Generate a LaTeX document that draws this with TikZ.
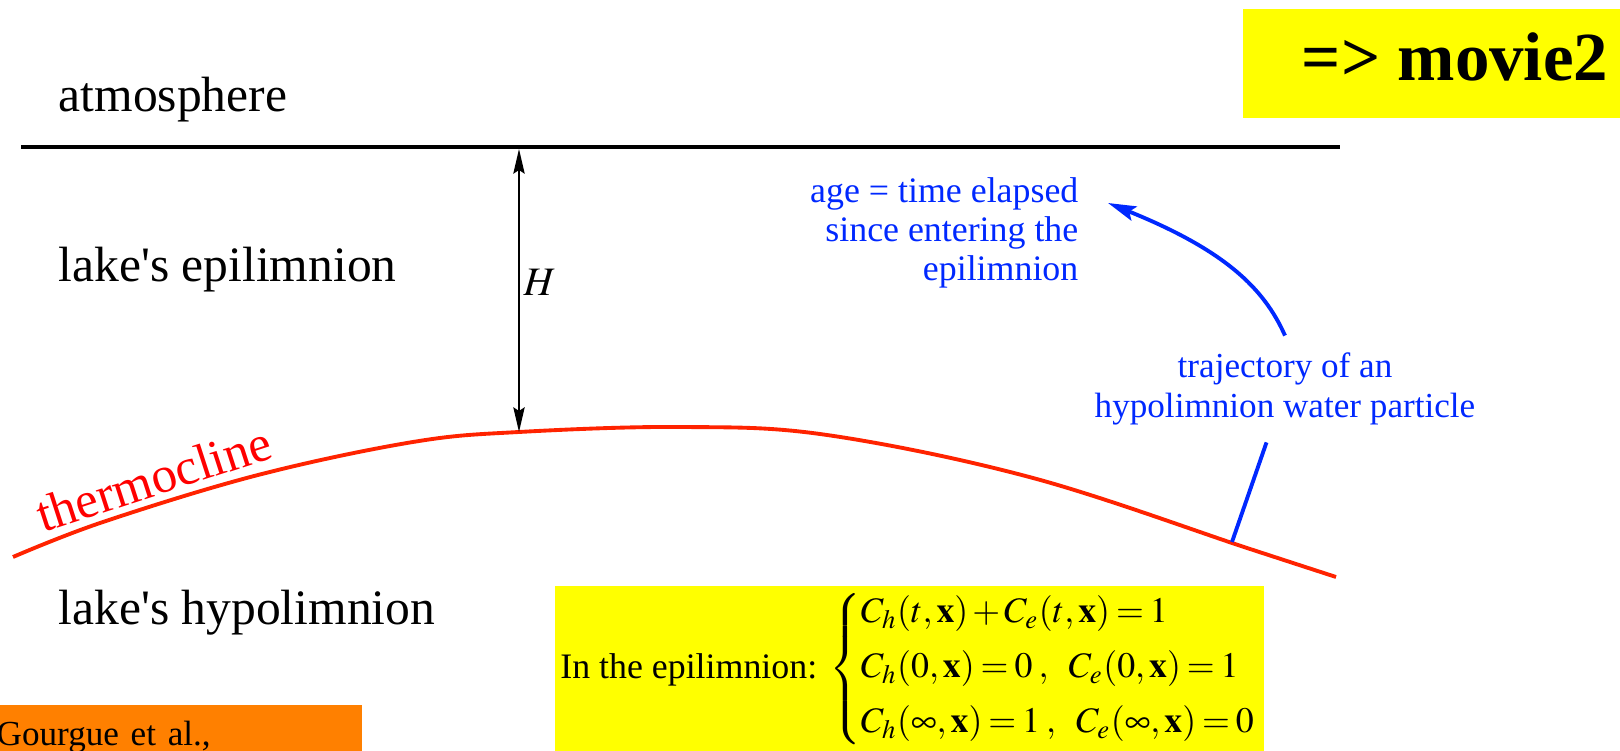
\documentclass[tikz,border=0pt]{standalone}
\usepackage{mathptmx}
\usepackage[no-math]{fontspec}
\setmainfont{Liberation Serif}[Ligatures=TeXOff]
\usetikzlibrary{arrows.meta}
\definecolor{thermored}{RGB}{255,35,0}
\definecolor{partblue}{RGB}{0,40,255}
\definecolor{boxyellow}{RGB}{255,255,0}
\definecolor{refrange}{RGB}{255,128,0}

\begin{document}
\begin{tikzpicture}[x=.1mm,y=.1mm,
  layer/.style={anchor=base west,inner sep=0pt,font=\fontsize{14.1}{16}\selectfont},
  bluetxt/.style={text=partblue,font=\fontsize{10}{11.2}\selectfont},
  traj/.style={draw=partblue,line width=1.1pt}]
\path[use as bounding box] (0,0) rectangle (1620,-751);

% layers of the lake
\node[layer] (atm) at (58,-111.7) {atmosphere};
\node[layer] (epi) at (58,-281.7) {lake's epilimnion};
\node[layer] (hypo) at (58,-625) {lake's hypolimnion};
\draw[line width=1.1pt] (21,-147) -- (1340,-147);

% thermocline
\draw[thermored,line width=1.1pt] plot[smooth,tension=.6] coordinates {(13,-557) (103,-522) (258,-475) (413,-442) (519,-432) (682,-427) (827,-435) (1033,-478) (1247,-548) (1336,-577)};
\node[text=red,rotate=18,anchor=base,inner sep=0pt,font=\fontsize{14.5}{16}\selectfont] (thermolbl) at (159,-495) {thermocline};

% depth H
\coordinate (htop) at (519,-149);
\coordinate (hbot) at (519,-432);
\draw[line width=.6pt,{Stealth[length=7pt,width=3.2pt,inset=1pt]}-{Stealth[length=7pt,width=3.2pt,inset=1pt]}] (htop) -- (hbot);
\node[anchor=west,inner sep=0pt,font=\fontsize{11.5}{13}\selectfont] (hlbl) at (523,-282) {$H$};

% particle
\node[bluetxt,align=right,anchor=east,inner sep=0pt,font=\fontsize{10.2}{11}\selectfont] (age) at (1079,-233) {age = time elapsed\\since entering the\\epilimnion};
\node[bluetxt,align=center,inner sep=4.8pt] (trajlbl) at (1285,-389) {trajectory of an\\hypolimnion water particle};
\coordinate (enter) at (1232,-542);
\coordinate (agetip) at ([shift={(29,30)}]age.east);
\draw[traj] (enter) -- (trajlbl);
\draw[traj,-{Stealth[length=8pt,width=4.3pt,inset=1.5pt]}] (trajlbl.north) .. controls +(114:52) and +(-22:126) .. (agetip);

% boxes
\node[fill=boxyellow,minimum width=42.5mm,minimum height=10.9mm,text depth=4.2pt,font=\bfseries\fontsize{19.6}{22}\selectfont] (movie) at (1455,-63.5) {=> movie2};
\node[fill=refrange,anchor=north west,text width=36.5mm,align=left,inner xsep=0pt,inner ysep=4.9pt,text height=6.8pt,text depth=5pt,font=\fontsize{10}{12}\selectfont] (cite) at (-4,-704) {Gourgue et al.,};
\node[fill=boxyellow,anchor=north west,inner xsep=1.6pt,inner ysep=2pt,text depth=22pt,font=\fontsize{10.2}{12.24}\selectfont] (epicond) at (554,-585) {In the epilimnion: \thickmuskip=3mu\medmuskip=2mu$\left\{\begin{array}{@{}l@{}}
C_h(t,\mathbf{x})+C_e(t,\mathbf{x})=1\\[3.4pt]
C_h(0,\mathbf{x})=0\;,\hspace{4.6pt}C_e(0,\mathbf{x})=1\\[3.4pt]
C_h(\infty,\mathbf{x})=1\;,\hspace{4.6pt}C_e(\infty,\mathbf{x})=0
\end{array}\right.$};
\end{tikzpicture}
\end{document}
